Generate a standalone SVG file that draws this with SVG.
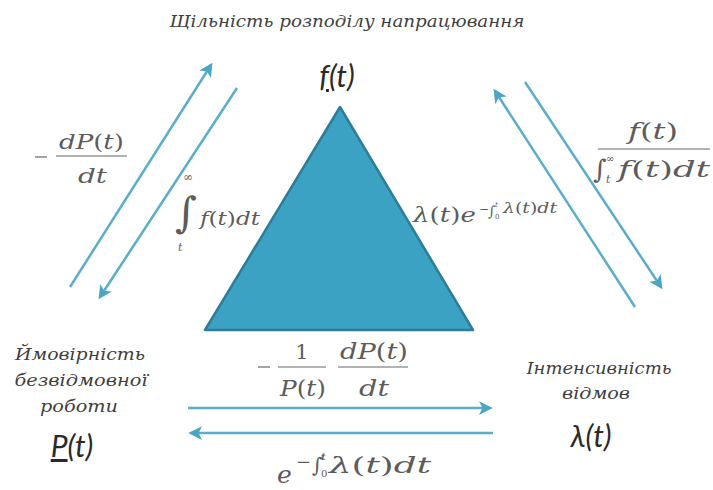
<svg xmlns="http://www.w3.org/2000/svg" width="713" height="490" viewBox="0 0 713 490">
<defs>
<style>
.lbl{font-family:'DejaVu Serif','Liberation Serif',serif;font-style:italic;fill:#3f3f3f;font-size:16px}
.var{font-family:Lato,'Liberation Sans',sans-serif;font-style:italic;fill:#2a2a2a;font-size:30px}
.m{font-family:'DejaVu Serif','Liberation Serif',serif;font-style:italic;fill:#5c5c5c}
.up{font-style:normal}
.bar{stroke:#666;stroke-width:1.2}
.arr{stroke:#5aaecb;stroke-width:2.5;fill:none;marker-end:url(#ah)}
.ul{text-decoration:underline}
</style>
<marker id="ah" viewBox="0 0 10 10" refX="8" refY="5" markerWidth="5.5" markerHeight="5.5" orient="auto">
<path d="M0,0 L10,5 L0,10 L2.5,5 z" fill="#4ba6c4"/>
</marker>
</defs>
<rect width="713" height="490" fill="#ffffff"/>

<g id="connectors">
<line class="arr" x1="70" y1="287" x2="211" y2="65"/>
<line class="arr" x1="237" y1="88" x2="100" y2="297"/>
<line class="arr" x1="635" y1="307" x2="495" y2="91"/>
<line class="arr" x1="525" y1="82" x2="661" y2="287"/>
<line class="arr" x1="188" y1="408" x2="490" y2="408"/>
<line class="arr" x1="493" y1="433" x2="191" y2="433"/>
</g>

<g id="triangle">
<polygon points="340,107 205,330 473,330" fill="#3ba2c3" stroke="#2d7d98" stroke-width="2.5" stroke-linejoin="round"/>
</g>

<g id="title">
<text class="lbl" x="347" y="27" text-anchor="middle" textLength="355" lengthAdjust="spacingAndGlyphs">Щільність розподілу напрацювання</text>
</g>

<g id="node-f">
<text class="var" x="337" y="87" text-anchor="middle"><tspan class="ul">f</tspan>(t)</text>
</g>

<g id="node-p">
<text class="lbl" x="80" y="360" text-anchor="middle" textLength="130" lengthAdjust="spacingAndGlyphs">Ймовірність</text>
<text class="lbl" x="81" y="386" text-anchor="middle" textLength="133" lengthAdjust="spacingAndGlyphs">безвідмовної</text>
<text class="lbl" x="79" y="412" text-anchor="middle" textLength="78" lengthAdjust="spacingAndGlyphs">роботи</text>
<text class="var" x="72" y="457" text-anchor="middle"><tspan class="ul">P</tspan>(t)</text>
</g>

<g id="node-lambda">
<text class="lbl" x="599" y="374" text-anchor="middle" textLength="145" lengthAdjust="spacingAndGlyphs">Інтенсивність</text>
<text class="lbl" x="596" y="399" text-anchor="middle" textLength="68" lengthAdjust="spacingAndGlyphs">відмов</text>
<text class="var" x="591" y="447" text-anchor="middle">λ(t)</text>
</g>

<g id="formula-left-outer">
<line class="bar" x1="35" y1="157" x2="47" y2="157"/>
<line class="bar" x1="56" y1="156" x2="127" y2="156"/>
<text class="m" x="59" y="149" font-size="21" textLength="65" lengthAdjust="spacingAndGlyphs">dP<tspan class="up">(</tspan>t<tspan class="up">)</tspan></text>
<text class="m" x="78" y="183" font-size="21" textLength="29" lengthAdjust="spacingAndGlyphs">dt</text>
</g>

<g id="formula-left-inner">
<text class="m up" x="183" y="181" font-size="12">∞</text>
<text class="m up" x="175" y="227" font-size="42">∫</text>
<text class="m" x="178" y="251" font-size="11">t</text>
<text class="m" x="200" y="225" font-size="19" textLength="60" lengthAdjust="spacingAndGlyphs">f<tspan class="up">(</tspan>t<tspan class="up">)</tspan>dt</text>
</g>

<g id="formula-right-inner">
<text class="m" x="413" y="222" font-size="20" textLength="63" lengthAdjust="spacingAndGlyphs">λ<tspan class="up">(</tspan>t<tspan class="up">)</tspan>e</text>
<text class="m up" x="479" y="213" font-size="12">−</text>
<text class="m up" x="488" y="216" font-size="14">∫</text>
<text class="m up" x="495" y="219" font-size="7">0</text>
<text class="m" x="495" y="207" font-size="7">t</text>
<text class="m" x="503" y="213" font-size="14" textLength="54" lengthAdjust="spacingAndGlyphs">λ<tspan class="up">(</tspan>t<tspan class="up">)</tspan>dt</text>
</g>

<g id="formula-right-outer">
<text class="m" x="628" y="139" font-size="23" textLength="50" lengthAdjust="spacingAndGlyphs">f<tspan class="up">(</tspan>t<tspan class="up">)</tspan></text>
<line class="bar" x1="598" y1="149" x2="710" y2="149"/>
<text class="m up" x="593" y="178" font-size="26">∫</text>
<text class="m up" x="606" y="162" font-size="10">∞</text>
<text class="m" x="606" y="183" font-size="11">t</text>
<text class="m" x="618" y="177" font-size="22" textLength="92" lengthAdjust="spacingAndGlyphs">f<tspan class="up">(</tspan>t<tspan class="up">)</tspan>dt</text>
</g>

<g id="formula-bottom-top">
<line class="bar" x1="258" y1="367" x2="270" y2="367"/>
<line class="bar" x1="278" y1="367" x2="326" y2="367"/>
<line class="bar" x1="338" y1="367" x2="408" y2="367"/>
<text class="m up" x="302" y="359" font-size="21" text-anchor="middle">1</text>
<text class="m" x="280" y="396" font-size="22" textLength="46" lengthAdjust="spacingAndGlyphs">P<tspan class="up">(</tspan>t<tspan class="up">)</tspan></text>
<text class="m" x="340" y="359" font-size="22" textLength="68" lengthAdjust="spacingAndGlyphs">dP<tspan class="up">(</tspan>t<tspan class="up">)</tspan></text>
<text class="m" x="359" y="396" font-size="22" textLength="30" lengthAdjust="spacingAndGlyphs">dt</text>
</g>

<g id="formula-bottom-bottom">
<text class="m" x="277" y="483" font-size="25">e</text>
<text class="m up" x="296" y="468" font-size="18">−</text>
<text class="m up" x="312" y="472" font-size="20">∫</text>
<text class="m up" x="321" y="477" font-size="10">0</text>
<text class="m" x="321" y="460" font-size="10" font-weight="bold">t</text>
<text class="m" x="329" y="473" font-size="22" textLength="102" lengthAdjust="spacingAndGlyphs">λ<tspan class="up">(</tspan>t<tspan class="up">)</tspan>dt</text>
</g>
</svg>
